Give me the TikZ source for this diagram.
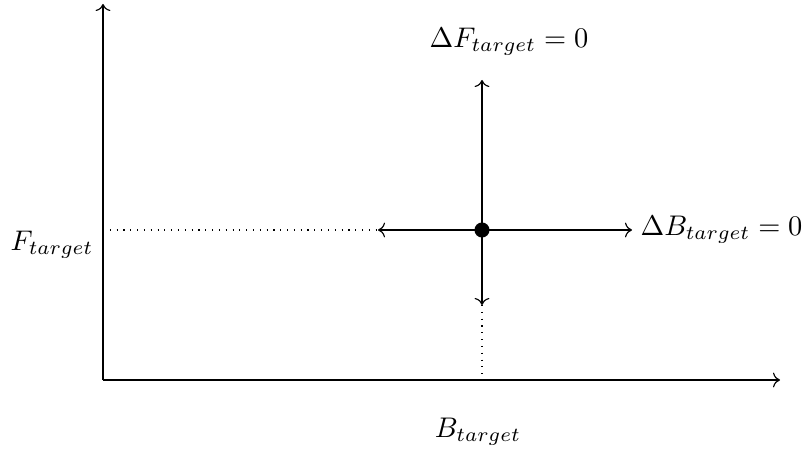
\documentclass[tikz,border=0pt]{standalone}
\usepackage{tikz}
\usetikzlibrary{arrows.meta, positioning, calc}

\begin{document}
\begin{tikzpicture}[
  x=0.01238cm, y=-0.01238cm,
  axe/.style={->, line width=0.4pt, draw=black},
  guide/.style={dotted, line width=0.4pt, draw=black},
  variation/.style={->, line width=0.4pt, draw=black},
  cible/.style={circle, fill=black, inner sep=0pt, minimum size=5.3pt},
  etiquette/.style={inner sep=0pt}
]
  \useasboundingbox (0,0) rectangle (811,452);

  % Axes
  \coordinate (origine) at (103,380);
  \coordinate (xfin) at (780,380);
  \coordinate (yfin) at (103,4);
  \draw[axe] (origine) -- (xfin);
  \draw[axe] (origine) -- (yfin);

  % Point cible et projections
  \node[cible] (cible) at (482,230) {};
  \coordinate (projy) at (103,230);
  \coordinate (projx) at (482,380);
  \draw[guide] (projy) -- (cible.center);
  \draw[guide] (cible.center) -- (projx);

  % Variations
  \coordinate (haut) at (482,80);
  \coordinate (droite) at (632,230);
  \coordinate (gauche) at (378,230);
  \coordinate (bas) at (482,305);
  \draw[variation] (cible.center) -- (haut);
  \draw[variation] (cible.center) -- (droite);
  \draw[variation] (cible.center) -- (gauche);
  \draw[variation] (cible.center) -- (bas);

  % Etiquettes
  \node[etiquette] (lf) at (52,245) {$F_{target}$};
  \node[etiquette] (lb) at (478,432) {$B_{target}$};
  \node[etiquette] (ldf) at (509,42) {$\Delta F_{target}=0$};
  \node[etiquette, anchor=west] (ldb) at (640,230) {$\Delta B_{target}=0$};

\end{tikzpicture}
\end{document}
